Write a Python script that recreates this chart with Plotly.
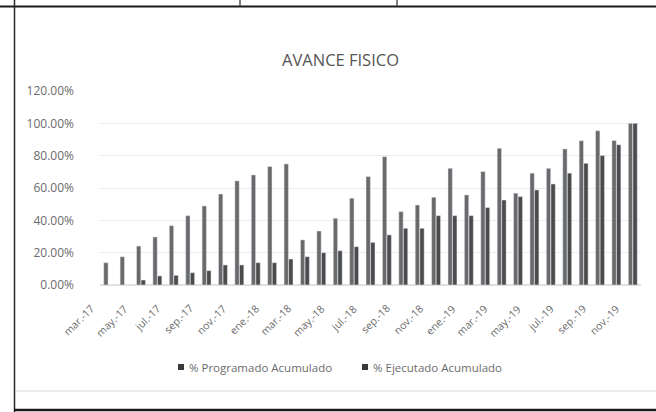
import plotly.graph_objects as go

W, H = 656, 412

meses = ["mar.", "abr.", "may.", "jun.", "jul.", "ago.", "sep.", "oct.", "nov.", "dic.", "ene.", "feb."]
categorias = []
anio = 17
idx = 0
for i in range(33):
    m = meses[idx]
    if m == "ene." and i > 0:
        anio += 1
    categorias.append(f"{m}-{anio}")
    idx = (idx + 1) % len(meses)

programado = [13.8, 17.5, 24.1, 29.7, 36.7, 42.9, 48.9, 56.3, 64.4, 68.1, 73.3, 74.9,
              27.9, 33.4, 41.3, 53.7, 67.1, 79.4, 45.4, 49.5, 54.3, 72.2, 55.7, 70.2,
              84.6, 56.8, 69.2, 72.2, 84.2, 89.2, 95.4, 89.4, 100.0]
ejecutado = [0.0, 0.0, 3.1, 5.6, 6.0, 7.6, 8.9, 12.4, 12.4, 13.8, 13.8, 16.1,
             17.5, 20.0, 21.2, 23.7, 26.4, 31.0, 35.1, 35.1, 42.9, 42.9, 42.9, 47.9,
             52.6, 54.7, 58.8, 62.5, 69.2, 75.3, 80.1, 86.7, 100.0]

series_nombres = ["% Programado Acumulado", "% Ejecutado Acumulado"]
series_colores = ["#6a6a6a", "#4b4b4b"]

tick_vals = categorias[::2]
tick_text = tick_vals

FONT = "Open Sans"
GREY = "#6c6c6c"

fig = go.Figure()
for nombre, color, vals in zip(series_nombres, series_colores, [programado, ejecutado]):
    fig.add_trace(go.Bar(x=categorias, y=[v / 100 for v in vals], name=nombre,
                         marker_color=color, showlegend=False))

def px(x):
    return x / W

def py(y):
    return 1 - y / H

def line(x0, y0, x1, y1, color, width):
    return dict(type="line", xref="paper", yref="paper", x0=px(x0), x1=px(x1),
                y0=py(y0), y1=py(y1), line=dict(color=color, width=width))

shapes = [
    line(0, 6.5, W, 6.5, "#1a1a1a", 2),
    line(14.5, 0, 14.5, H, "#2a2a2a", 1.5),
    line(240, 0, 240, 6.5, "#2a2a2a", 1.2),
    line(397, 0, 397, 6.5, "#2a2a2a", 1.2),
    line(16, 391, W, 391, "#d8d8d8", 1),
    line(14, 410, W, 410, "#1a1a1a", 2.5),
]

annotations = [dict(text="AVANCE FISICO", x=px(340), y=py(60), xref="paper", yref="paper",
                    xanchor="center", yanchor="middle",
                    showarrow=False, font=dict(size=16.5, color="#555555", family=FONT))]

# rotated category labels (Excel-style placement)
for v, t in zip(tick_vals, tick_text):
    annotations.append(dict(text=t, x=v, xref="x", y=py(299), yref="paper",
                            xanchor="right", yanchor="top", textangle=-45, xshift=-8,
                            showarrow=False, font=dict(size=10.5, color=GREY, family=FONT)))

# custom legend (square + label)
leg_x = [178, 362]
leg_y = 367
for lx, nombre, color in zip(leg_x, series_nombres, series_colores):
    shapes.append(dict(type="rect", xref="paper", yref="paper",
                       x0=px(lx), x1=px(lx + 6), y0=py(leg_y + 3), y1=py(leg_y - 3),
                       fillcolor="#3a3a3a", line=dict(width=0)))
    annotations.append(dict(text=nombre, x=px(lx + 9), y=py(leg_y), xref="paper", yref="paper",
                            xanchor="left", yanchor="middle", showarrow=False,
                            font=dict(size=11.5, color=GREY, family=FONT)))

fig.update_layout(
    width=W, height=H,
    margin=dict(l=0, r=0, t=0, b=0),
    paper_bgcolor="white", plot_bgcolor="white",
    barmode="group", bargap=0.44, bargroupgap=0.05,
    font=dict(family=FONT, color=GREY, size=10),
    showlegend=False,
    shapes=shapes,
    annotations=annotations,
    xaxis=dict(domain=[px(100), px(641)], type="category",
               categoryorder="array", categoryarray=categorias,
               range=[-0.5, len(categorias) - 0.5], autorange=False,
               showgrid=False, showline=False, ticks="", showticklabels=False,
               automargin=False),
    yaxis=dict(domain=[py(285), py(91)], range=[0, 1.2], tickvals=[0, 0.2, 0.4, 0.6, 0.8, 1.0, 1.2],
               tickformat=".2%", showgrid=True, gridcolor="#ececec", gridwidth=1,
               zeroline=True, zerolinecolor="#e0e0e0", showline=False, automargin=False,
               tickfont=dict(size=12, color=GREY), ticklabelstandoff=25),
)

fig.write_html("out.html", config={"displayModeBar": False},
               post_script="document.body.style.margin='0';document.body.style.padding='0';")
